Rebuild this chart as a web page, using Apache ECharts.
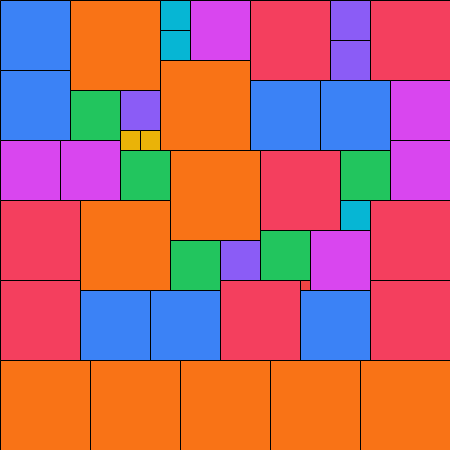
<!DOCTYPE html>
<html>
<head>
<meta charset="utf-8">
<script src="https://cdn.jsdelivr.net/npm/echarts@6/dist/echarts.min.js"></script>
<style>
  html, body { margin: 0; padding: 0; }
  #main { width: 450px; height: 450px; }
</style>
</head>
<body>
<div id="main"></div>
<script>
// square packing: left, top, side, colour key
var xs =    [0, 70, 160, 160, 190, 250, 330, 330, 370, 0, 70, 120, 120, 140, 160, 250, 320, 390, 0, 60, 120, 170, 260, 340, 390, 340, 0, 80, 170, 220, 260, 310, 370, 0, 80, 150, 220, 300, 370, 0, 90, 180, 270, 360];
var ys =    [0, 0, 0, 30, 0, 0, 0, 40, 0, 70, 90, 90, 130, 130, 60, 80, 80, 80, 140, 140, 150, 150, 150, 150, 140, 200, 200, 200, 240, 240, 230, 230, 200, 280, 290, 290, 280, 290, 280, 360, 360, 360, 360, 360];
var sizes = [70, 90, 30, 30, 60, 80, 40, 40, 80, 70, 50, 40, 20, 20, 90, 70, 70, 60, 60, 60, 50, 90, 80, 50, 60, 30, 80, 90, 50, 40, 50, 60, 80, 80, 70, 70, 80, 70, 80, 90, 90, 90, 90, 90];
var kinds = ["blue", "orange", "cyan", "cyan", "magenta", "red", "purple", "purple", "red", "blue", "green", "purple", "yellow", "yellow", "orange", "blue", "blue", "magenta", "magenta", "magenta", "green", "orange", "red", "green", "magenta", "cyan", "red", "orange", "green", "purple", "green", "magenta", "red", "red", "blue", "blue", "red", "blue", "red", "orange", "orange", "orange", "orange", "orange"];

var palette = {
  blue: "#3b82f6",
  orange: "#f97316",
  cyan: "#06b6d4",
  magenta: "#d946ef",
  red: "#f43f5e",
  purple: "#8b5cf6",
  green: "#22c55e",
  yellow: "#eab308"
};

var data = xs.map(function (x, i) {
  return [x, ys[i], sizes[i], kinds[i]];
});

var myChart = echarts.init(document.getElementById("main"));
myChart.setOption({
  backgroundColor: "#ef4444",
  animation: false,
  grid: { left: 0, right: 0, top: 0, bottom: 0 },
  xAxis: { type: "value", min: 0, max: 450, show: false },
  yAxis: { type: "value", min: 0, max: 450, inverse: true, show: false },
  series: [
    {
      type: "custom",
      data: data,
      renderItem: function (params, api) {
        var p = api.coord([api.value(0), api.value(1)]);
        var s = api.size([api.value(2), api.value(2)]);
        return {
          type: "rect",
          shape: { x: p[0] + 0.5, y: p[1] + 0.5, width: s[0], height: s[1] },
          style: {
            fill: palette[data[params.dataIndex][3]],
            stroke: "#000",
            lineWidth: 1
          }
        };
      }
    }
  ]
});
</script>
</body>
</html>
